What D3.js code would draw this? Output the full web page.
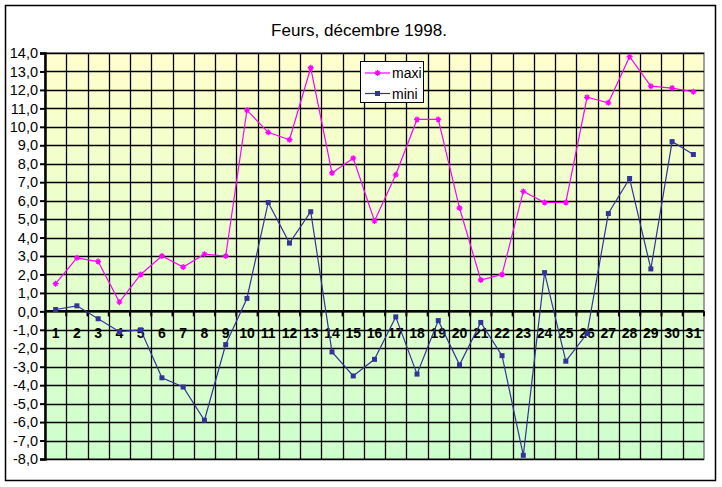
<!DOCTYPE html>
<html><head><meta charset="utf-8">
<script src="https://cdn.jsdelivr.net/npm/d3@7"></script>
<style>body{margin:0;background:#fff}svg{display:block}</style>
</head><body>
<script>
const days = d3.range(1, 32).map(String);
const maxi = [1.5,2.9,2.7,0.5,2.0,3.0,2.4,3.1,3.0,10.9,9.7,9.3,13.2,7.5,8.3,4.9,7.4,10.4,10.4,5.6,1.7,2.0,6.5,5.9,5.9,11.6,11.3,13.8,12.2,12.1,11.9];
const mini = [0.1,0.3,-0.4,-1.1,-1.0,-3.6,-4.1,-5.9,-1.8,0.7,5.9,3.7,5.4,-2.2,-3.5,-2.6,-0.3,-3.4,-0.5,-2.9,-0.6,-2.4,-7.8,2.1,-2.7,-1.2,5.3,7.2,2.3,9.2,8.5];
const yTicks = d3.range(-8, 15, 1);
const title = "Feurs, décembre 1998.";
const seriesNames = ["maxi","mini"];

const W = 722, H = 487;
const L = 45, T = 53, R = 704, B = 459;
const FONT = "Arial, 'Liberation Sans', sans-serif";
const svg = d3.select("body").append("svg").attr("width", W).attr("height", H);

const defs = svg.append("defs");
const grad = defs.append("linearGradient").attr("id","bg").attr("x1",0).attr("y1",0).attr("x2",0).attr("y2",1);
grad.append("stop").attr("offset","0%").attr("stop-color","#FFFFCC");
grad.append("stop").attr("offset","100%").attr("stop-color","#CCFFCC");

// outer frame
svg.append("rect").attr("x",5.5).attr("y",5.5).attr("width",710).attr("height",475)
  .attr("fill","#fff").attr("stroke","#000").attr("stroke-width",1.5);

svg.append("text").attr("x",359).attr("y",36).attr("text-anchor","middle")
  .attr("font-family",FONT).attr("font-size",17).text(title);

const x = d3.scaleBand().domain(days).range([L, R]).padding(0);
const y = d3.scaleLinear().domain([-8, 14]).range([B, T]);

svg.append("rect").attr("x",L).attr("y",T).attr("width",R-L).attr("height",B-T)
  .attr("fill","url(#bg)").attr("stroke","#808080").attr("stroke-width",1.5);

// grid
const g = svg.append("g");
g.selectAll("line.h").data(yTicks).join("line")
  .attr("x1",L).attr("x2",R).attr("y1",d=>Math.round(y(d))+0.5).attr("y2",d=>Math.round(y(d))+0.5)
  .attr("stroke","#000").attr("stroke-width",1.3);
const bounds = days.slice(1).map(d=>x(d));
g.selectAll("line.v").data(bounds).join("line")
  .attr("x1",d=>Math.round(d)+0.5).attr("x2",d=>Math.round(d)+0.5).attr("y1",T).attr("y2",B)
  .attr("stroke","#000").attr("stroke-width",1.3);

// y axis
const yAxis = d3.axisLeft(y).tickValues(yTicks).tickSize(5).tickFormat(d=>d3.format(".1f")(d).replace(".",",").replace("−","-"));
const ya = svg.append("g").attr("transform",`translate(${L},0)`).call(yAxis);
ya.select(".domain").attr("stroke","#000").attr("stroke-width",2.5);
ya.selectAll(".tick line").attr("stroke","#000").attr("stroke-width",2);
ya.selectAll(".tick text").attr("font-family",FONT).attr("font-size",14.5).attr("fill","#000").attr("x",-7);

// x axis at zero
const xAxis = d3.axisBottom(x).tickSize(0).tickFormat(d=>d);
const xa = svg.append("g").attr("transform",`translate(0,${y(0)})`).call(xAxis);
xa.select(".domain").remove();
xa.selectAll(".tick text").attr("font-family",FONT).attr("font-size",14)
  .attr("font-weight","bold").attr("fill","#000").attr("dy","0").attr("y",27);
svg.append("line").attr("x1",L).attr("x2",R).attr("y1",y(0)).attr("y2",y(0)).attr("stroke","#000").attr("stroke-width",2.5);
svg.append("g").selectAll("line").data([L].concat(bounds, [R])).join("line")
  .attr("x1",d=>d).attr("x2",d=>d).attr("y1",y(0)).attr("y2",y(0)+5).attr("stroke","#000").attr("stroke-width",2);

// series
const cx = (d,i)=>x(days[i]) + x.bandwidth()/2;
const line = d3.line().x(cx).y(d=>y(d));
svg.append("path").datum(maxi).attr("d",line).attr("fill","none").attr("stroke","#FF00FF").attr("stroke-width",1.2);
svg.append("path").datum(mini).attr("d",line).attr("fill","none").attr("stroke","#333399").attr("stroke-width",1.2);

function star(sel, px, py, col){
  sel.append("path").attr("d",`M${px-3},${py}H${px+3}M${px},${py-3}V${py+3}M${px-2},${py-2}L${px+2},${py+2}M${px-2},${py+2}L${px+2},${py-2}`)
    .attr("stroke",col).attr("stroke-width",1.3).attr("fill","none");
}
const mg = svg.append("g");
maxi.forEach((d,i)=>star(mg, cx(d,i), y(d), "#FF00FF"));
svg.append("g").selectAll("rect").data(mini).join("rect")
  .attr("x",(d,i)=>cx(d,i)-2.5).attr("y",d=>y(d)-2.5).attr("width",5).attr("height",5).attr("fill","#333399");

// legend
const lg = svg.append("g");
lg.append("rect").attr("x",360.5).attr("y",61.5).attr("width",63).attr("height",41).attr("fill","#fff").attr("stroke","#000").attr("stroke-width",1);
const cols = ["#FF00FF","#333399"];
seriesNames.forEach((n,i)=>{
  const ly = 73 + i*20.5;
  lg.append("line").attr("x1",365).attr("x2",390).attr("y1",ly).attr("y2",ly).attr("stroke",cols[i]).attr("stroke-width",1.2);
  if(i===0) star(lg, 377.5, ly, cols[i]);
  else lg.append("rect").attr("x",375).attr("y",ly-2.5).attr("width",5).attr("height",5).attr("fill",cols[i]);
  lg.append("text").attr("x",392).attr("y",ly+5).attr("font-family",FONT).attr("font-size",14).text(n);
});
</script>
</body></html>
